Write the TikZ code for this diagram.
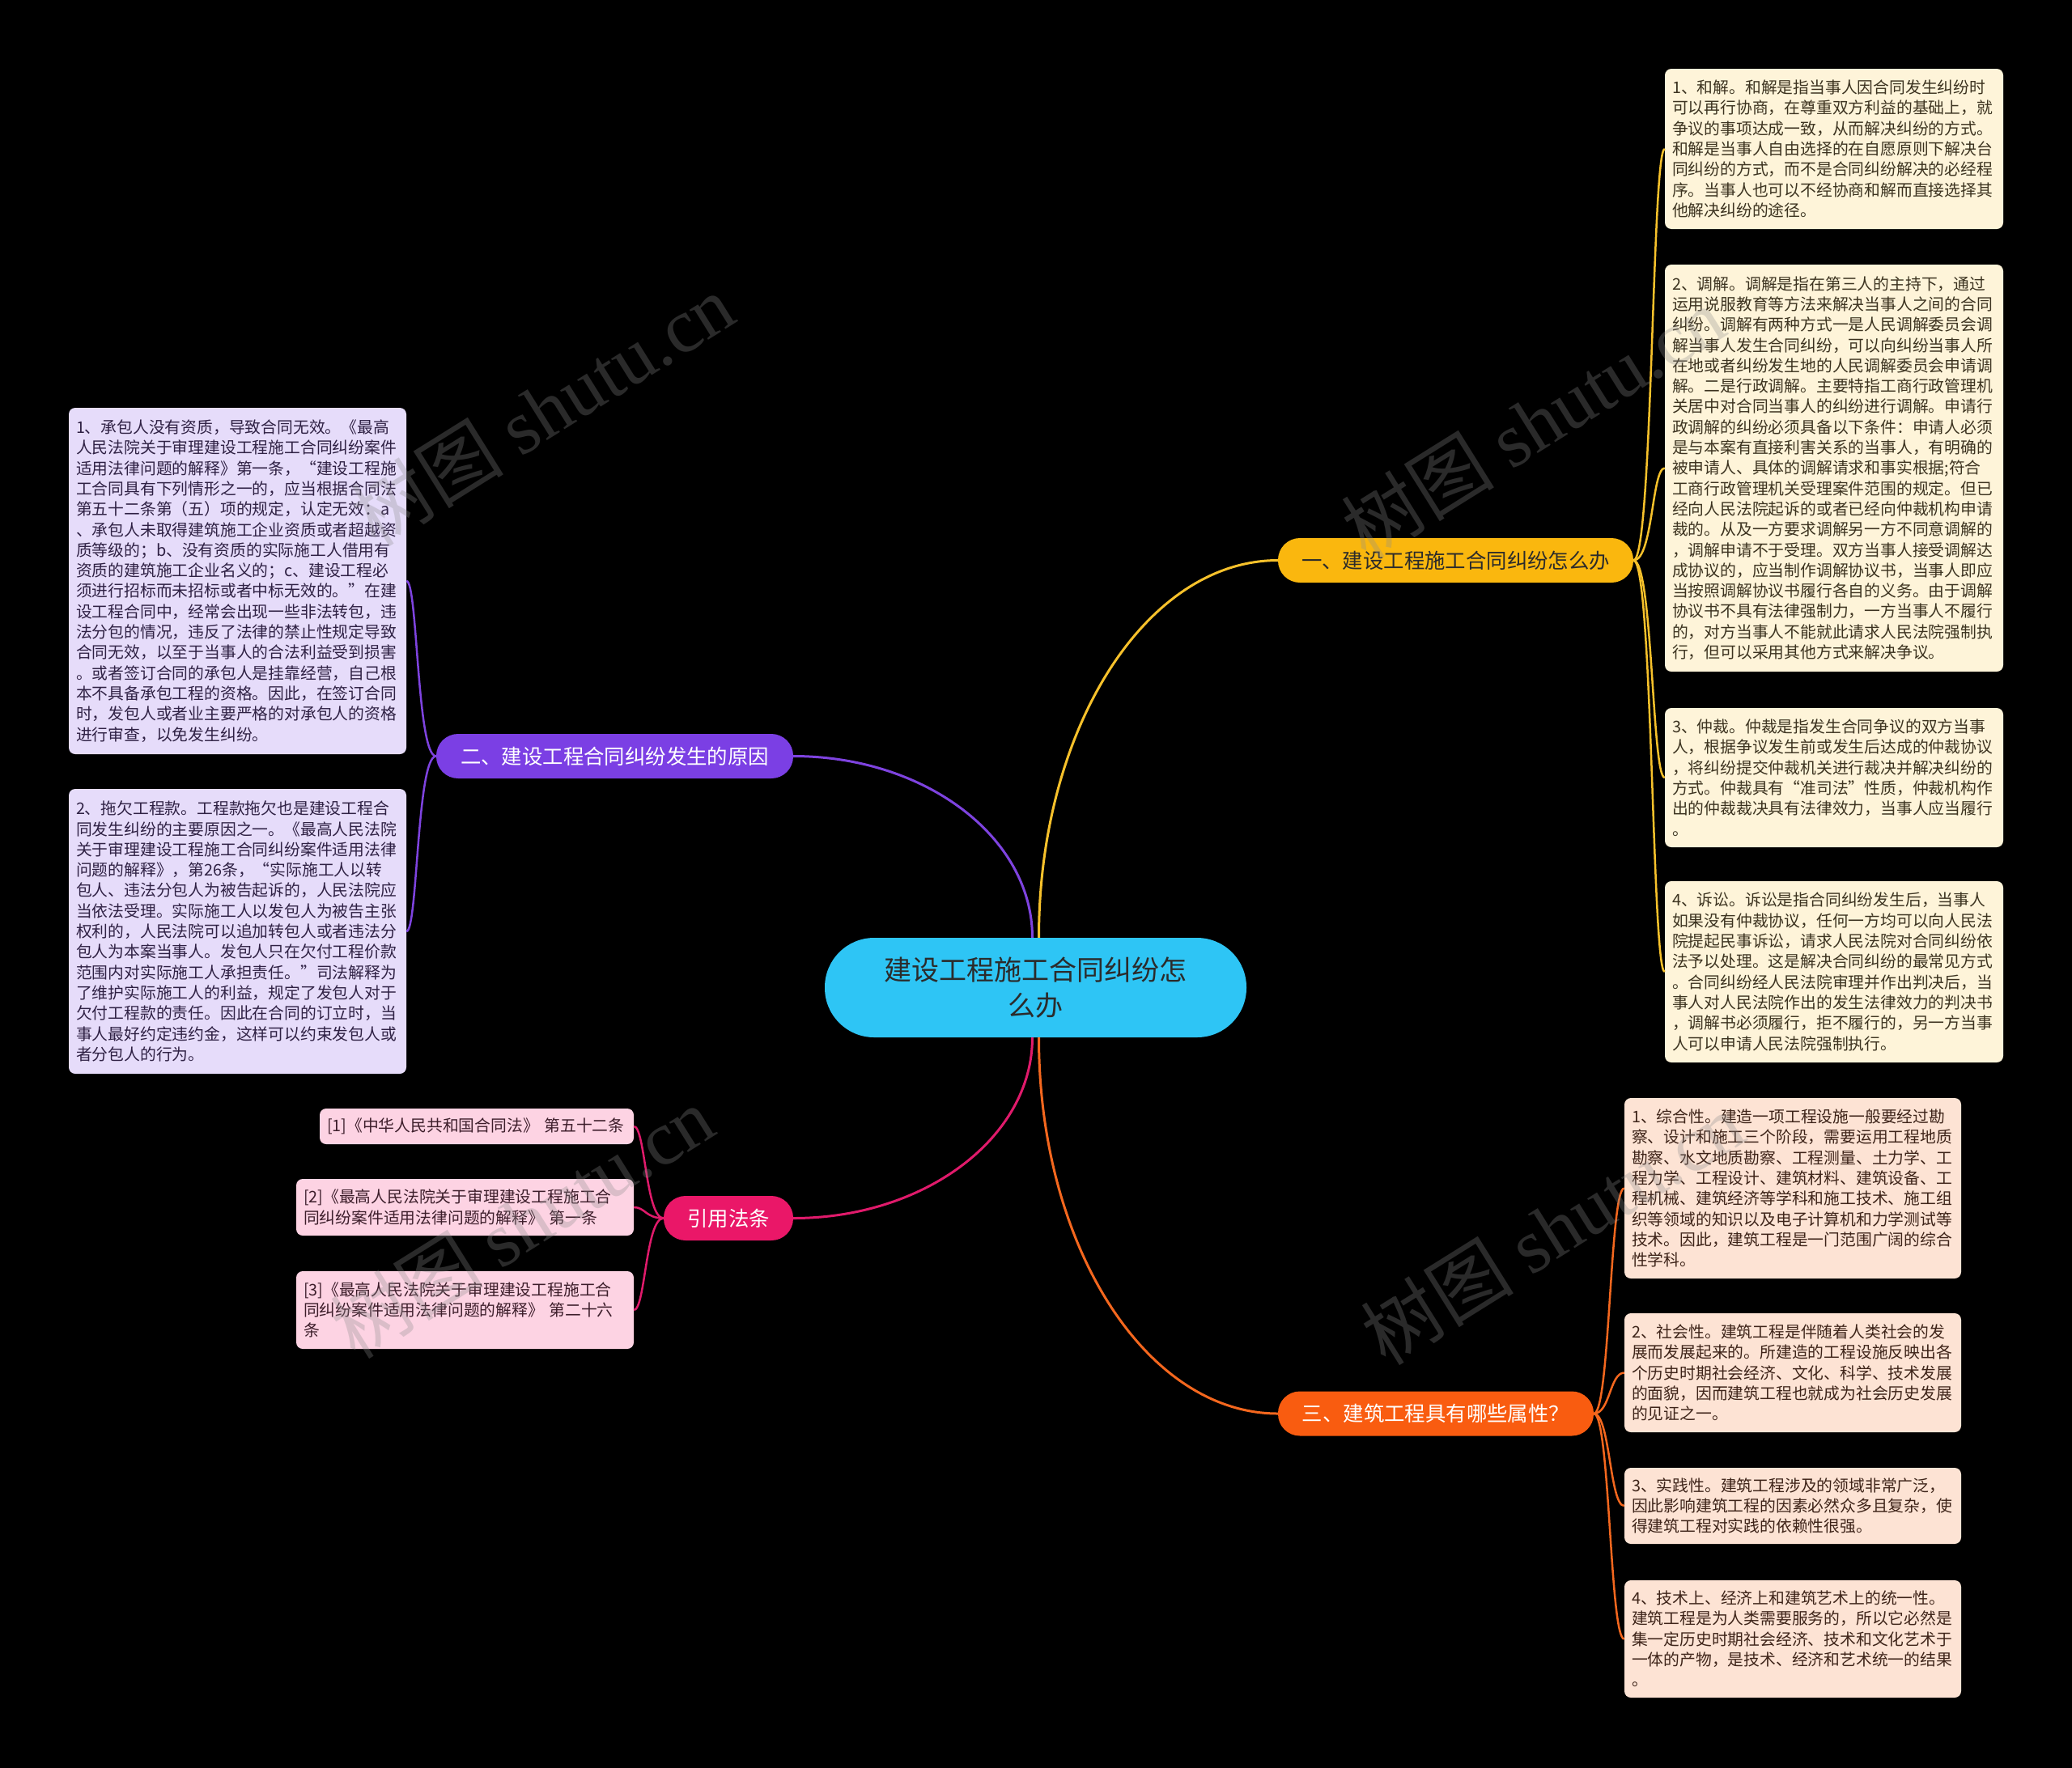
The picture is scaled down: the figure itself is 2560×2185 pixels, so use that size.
\documentclass[tikz,border=0pt]{standalone}
\usepackage{fontspec}
\setmainfont{Noto Sans CJK SC}
\newfontfamily\wmserif{Liberation Serif}
\usetikzlibrary{calc}
\definecolor{rootcol}{HTML}{2EC5F5}
\definecolor{rootink}{HTML}{2B2B2B}
\definecolor{ybr}{HTML}{FAB70E}
\definecolor{yline}{HTML}{F7C12B}
\definecolor{pbr}{HTML}{7B3FE4}
\definecolor{pline}{HTML}{7E43DF}
\definecolor{cbr}{HTML}{EA1768}
\definecolor{cline}{HTML}{E01A6B}
\definecolor{obr}{HTML}{F95C10}
\definecolor{oline}{HTML}{F4671E}
\definecolor{yfill}{HTML}{FEF4D9}
\definecolor{yink}{HTML}{3C3320}
\definecolor{pfill}{HTML}{E6DCFA}
\definecolor{pink}{HTML}{2F2144}
\definecolor{cfill}{HTML}{FDD3E3}
\definecolor{cink}{HTML}{3D1E2B}
\definecolor{ofill}{HTML}{FDE3D4}
\definecolor{oink}{HTML}{3E2419}
\definecolor{wmgray}{HTML}{8C8C8C}
\begin{document}
\begin{tikzpicture}[x=1pt,y=-1pt]
\tikzstyle{every node}+=[inner sep=0pt]
\tikzstyle{root}=[fill=rootcol, text=rootink, rounded corners=61pt, minimum width=521pt, minimum height=123pt, align=center, font=\fontsize{34}{44}\selectfont]
\tikzstyle{branch}=[rounded corners=27pt, minimum height=55pt, font=\fontsize{25.4}{30}\selectfont]
\tikzstyle{leaf}=[rounded corners=8pt, inner xsep=9pt, text width=399pt, align=left, font=\fontsize{19.8}{25.3}\selectfont]
\tikzstyle{yleaf}=[leaf, fill=yfill, text=yink, text width=400pt]
\tikzstyle{pleaf}=[leaf, fill=pfill, text=pink]
\tikzstyle{cleaf}=[leaf, fill=cfill, text=cink]
\tikzstyle{oleaf}=[leaf, fill=ofill, text=oink, text width=398pt]
\tikzstyle{link}=[line width=3pt]
\tikzstyle{twig}=[line width=2.5pt]
\tikzstyle{wmark}=[rotate=32, text=wmgray, text opacity=0.3, font=\fontsize{95}{100}\selectfont]
\fill[black] (0,0) rectangle (2560,2185);
\node[root] (c) at (1279.5,1220.5) {建设工程施工合同纠纷怎\\么办};
\node[branch, fill=ybr, text=rootink, minimum width=439pt] (b1) at (1798.5,692.5) {一、建设工程施工合同纠纷怎么办};
\node[branch, fill=pbr, text=white, minimum width=441pt] (b2) at (759.5,934.5) {二、建设工程合同纠纷发生的原因};
\node[branch, fill=cbr, text=white, minimum width=160pt] (b3) at (900,1505.5) {引用法条};
\node[branch, fill=obr, text=white, minimum width=390pt] (b4) at (1774,1747) {三、建筑工程具有哪些属性？};
\node[yleaf, minimum height=198pt] (y1) at (2266,184) {1、和解。和解是指当事人因合同发生纠纷时\\可以再行协商，在尊重双方利益的基础上，就\\争议的事项达成一致，从而解决纠纷的方式。\\和解是当事人自由选择的在自愿原则下解决台\\同纠纷的方式，而不是合同纠纷解决的必经程\\序。当事人也可以不经协商和解而直接选择其\\他解决纠纷的途径。};
\node[yleaf, minimum height=503pt] (y2) at (2266,578.5) {2、调解。调解是指在第三人的主持下，通过\\运用说服教育等方法来解决当事人之间的合同\\纠纷。调解有两种方式一是人民调解委员会调\\解当事人发生合同纠纷，可以向纠纷当事人所\\在地或者纠纷发生地的人民调解委员会申请调\\解。二是行政调解。主要特指工商行政管理机\\关居中对合同当事人的纠纷进行调解。申请行\\政调解的纠纷必须具备以下条件：申请人必须\\是与本案有直接利害关系的当事人，有明确的\\被申请人、具体的调解请求和事实根据;符合\\工商行政管理机关受理案件范围的规定。但已\\经向人民法院起诉的或者已经向仲裁机构申请\\裁的。从及一方要求调解另一方不同意调解的\\，调解申请不于受理。双方当事人接受调解达\\成协议的，应当制作调解协议书，当事人即应\\当按照调解协议书履行各自的义务。由于调解\\协议书不具有法律强制力，一方当事人不履行\\的，对方当事人不能就此请求人民法院强制执\\行，但可以采用其他方式来解决争议。};
\node[yleaf, minimum height=172pt] (y3) at (2266,961) {3、仲裁。仲裁是指发生合同争议的双方当事\\人，根据争议发生前或发生后达成的仲裁协议\\，将纠纷提交仲裁机关进行裁决并解决纠纷的\\方式。仲裁具有“准司法”性质，仲裁机构作\\出的仲裁裁决具有法律效力，当事人应当履行\\。};
\node[yleaf, minimum height=224pt] (y4) at (2266,1201) {4、诉讼。诉讼是指合同纠纷发生后，当事人\\如果没有仲裁协议，任何一方均可以向人民法\\院提起民事诉讼，请求人民法院对合同纠纷依\\法予以处理。这是解决合同纠纷的最常见方式\\。合同纠纷经人民法院审理并作出判决后，当\\事人对人民法院作出的发生法律效力的判决书\\，调解书必须履行，拒不履行的，另一方当事\\人可以申请人民法院强制执行。};
\node[pleaf, minimum height=428pt] (p1) at (293.5,718) {1、承包人没有资质，导致合同无效。《最高\\人民法院关于审理建设工程施工合同纠纷案件\\适用法律问题的解释》第一条，“建设工程施\\工合同具有下列情形之一的，应当根据合同法\\第五十二条第（五）项的规定，认定无效：a\\、承包人未取得建筑施工企业资质或者超越资\\质等级的；b、没有资质的实际施工人借用有\\资质的建筑施工企业名义的；c、建设工程必\\须进行招标而未招标或者中标无效的。”在建\\设工程合同中，经常会出现一些非法转包，违\\法分包的情况，违反了法律的禁止性规定导致\\合同无效，以至于当事人的合法利益受到损害\\。或者签订合同的承包人是挂靠经营，自己根\\本不具备承包工程的资格。因此，在签订合同\\时，发包人或者业主要严格的对承包人的资格\\进行审查，以免发生纠纷。};
\node[pleaf, minimum height=352pt] (p2) at (293.5,1151) {2、拖欠工程款。工程款拖欠也是建设工程合\\同发生纠纷的主要原因之一。《最高人民法院\\关于审理建设工程施工合同纠纷案件适用法律\\问题的解释》，第26条，“实际施工人以转\\包人、违法分包人为被告起诉的，人民法院应\\当依法受理。实际施工人以发包人为被告主张\\权利的，人民法院可以追加转包人或者违法分\\包人为本案当事人。发包人只在欠付工程价款\\范围内对实际施工人承担责任。”司法解释为\\了维护实际施工人的利益，规定了发包人对于\\欠付工程款的责任。因此在合同的订立时，当\\事人最好约定违约金，这样可以约束发包人或\\者分包人的行为。};
\node[cleaf, text width=370pt, minimum height=44pt] (k1) at (589,1392) {[1]《中华人民共和国合同法》 第五十二条};
\node[cleaf, minimum height=70pt] (k2) at (574.5,1492) {[2]《最高人民法院关于审理建设工程施工合\\同纠纷案件适用法律问题的解释》 第一条};
\node[cleaf, minimum height=96pt] (k3) at (574.5,1619) {[3]《最高人民法院关于审理建设工程施工合\\同纠纷案件适用法律问题的解释》 第二十六\\条};
\node[oleaf, minimum height=223pt] (o1) at (2215,1468.5) {1、综合性。建造一项工程设施一般要经过勘\\察、设计和施工三个阶段，需要运用工程地质\\勘察、水文地质勘察、工程测量、土力学、工\\程力学、工程设计、建筑材料、建筑设备、工\\程机械、建筑经济等学科和施工技术、施工组\\织等领域的知识以及电子计算机和力学测试等\\技术。因此，建筑工程是一门范围广阔的综合\\性学科。};
\node[oleaf, minimum height=147pt] (o2) at (2215,1696.5) {2、社会性。建筑工程是伴随着人类社会的发\\展而发展起来的。所建造的工程设施反映出各\\个历史时期社会经济、文化、科学、技术发展\\的面貌，因而建筑工程也就成为社会历史发展\\的见证之一。};
\node[oleaf, minimum height=94pt] (o3) at (2215,1861) {3、实践性。建筑工程涉及的领域非常广泛，\\因此影响建筑工程的因素必然众多且复杂，使\\得建筑工程对实践的依赖性很强。};
\node[oleaf, minimum height=145pt] (o4) at (2215,2025.5) {4、技术上、经济上和建筑艺术上的统一性。\\建筑工程是为人类需要服务的，所以它必然是\\集一定历史时期社会经济、技术和文化艺术于\\一体的产物，是技术、经济和艺术统一的结果\\。};
\draw[link, yline] ($(c.north)+(4,0)$) .. controls +(0,-258) and +(-163,0) .. (b1.west);
\draw[link, pline] ($(c.north)+(-4,0)$) .. controls +(0,-124) and +(163,0) .. (b2.east);
\draw[link, cline] ($(c.south)+(-4,0)$) .. controls +(0,123) and +(163,0) .. (b3.east);
\draw[link, oline] ($(c.south)+(4,0)$) .. controls +(0,257) and +(-163,0) .. (b4.west);
\foreach \n in {y1,y2,y3,y4}
  \draw[twig, yline] (b1.east) .. controls +(24,0) and +(-16,0) .. (\n.west);
\foreach \n in {p1,p2}
  \draw[twig, pline] (b2.west) .. controls +(-24,0) and +(14,0) .. (\n.east);
\foreach \n in {k1,k2,k3}
  \draw[twig, cline] (b3.west) .. controls +(-22,0) and +(14,0) .. (\n.east);
\foreach \n in {o1,o2,o3,o4}
  \draw[twig, oline] (b4.east) .. controls +(20,0) and +(-18,0) .. (\n.west);
\node[wmark] (w1) at (670,506) {树图 {\wmserif shutu.cn}};
\node[wmark] (w2) at (1894,522) {树图 {\wmserif shutu.cn}};
\node[wmark] (w3) at (645,1510) {树图 {\wmserif shutu.cn}};
\node[wmark] (w4) at (1918,1518) {树图 {\wmserif shutu.cn}};
\end{tikzpicture}
\end{document}
